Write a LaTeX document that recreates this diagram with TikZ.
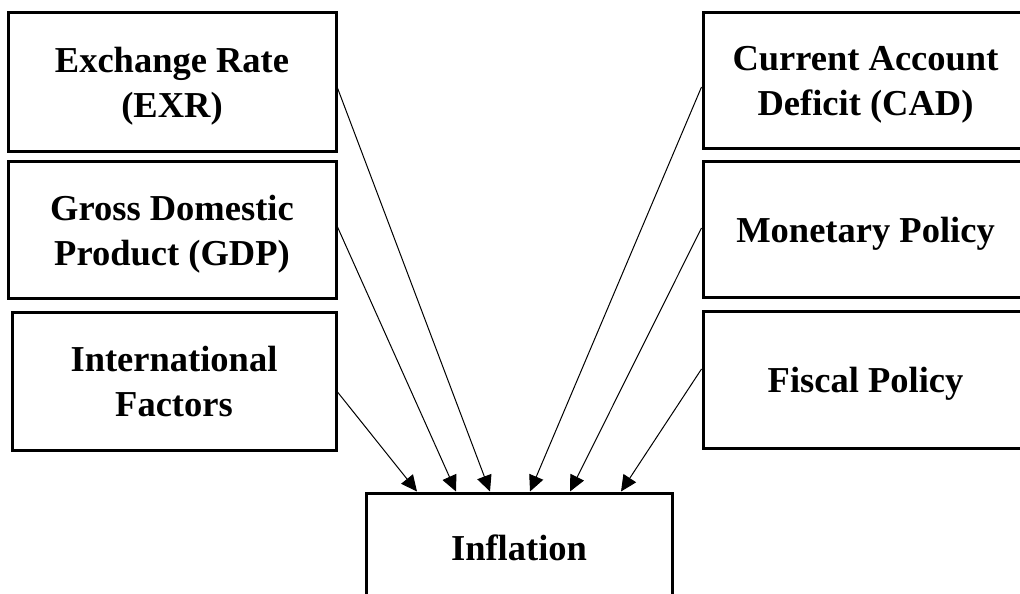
\documentclass[tikz,border=0pt]{standalone}
\usepackage{fontspec}
\setmainfont{Liberation Serif}
\usetikzlibrary{arrows.meta}

\tikzset{
    factor/.style={draw, rectangle, line width=1.5pt, align=center,
        font=\fontsize{18.25}{22.5}\selectfont\bfseries, inner sep=0pt, text depth=0pt},
    twoline/.style={text depth=-3.5pt},
    feed/.style={line width=0.5pt, -{Triangle[length=8pt,width=7.5pt]}}
}

\begin{document}
\begin{tikzpicture}[x=0.5pt, y=-0.5pt]

    \useasboundingbox (0, 0) rectangle (1020, 593);
    \clip (0, 0) rectangle (1020, 593);

    \node[factor, twoline, minimum width=164pt, minimum height=69.5pt] (exr) at (172, 82.5) {Exchange Rate\\(EXR)};
    \node[factor, twoline, minimum width=164pt, minimum height=68pt] (gdp) at (172, 230) {Gross Domestic\\Product (GDP)};
    \node[factor, twoline, minimum width=162pt, minimum height=69pt] (intl) at (174, 381) {International\\Factors};

    \node[factor, twoline, minimum width=162.5pt, minimum height=68pt] (cad) at (865.5, 81) {Current Account\\Deficit (CAD)};
    \node[factor, minimum width=162.5pt, minimum height=67.5pt] (monetary) at (865.5, 229.5) {Monetary Policy};
    \node[factor, minimum width=162.5pt, minimum height=68.5pt] (fiscal) at (865.5, 379.5) {Fiscal Policy};

    \node[factor, minimum width=153pt, minimum height=55pt] (inflation) at (519, 548) {Inflation};

    \draw[feed] ([yshift=-5.5pt]intl.east) -- ([xshift=-51pt]inflation.north);
    \draw[feed] ([yshift=1.5pt]gdp.east) -- ([xshift=-31.5pt]inflation.north);
    \draw[feed] ([yshift=-2.75pt]exr.east) -- ([xshift=-14.5pt]inflation.north);

    \draw[feed] ([yshift=-3pt]cad.west) -- ([xshift=5.5pt]inflation.north);
    \draw[feed] ([yshift=0.75pt]monetary.west) -- ([xshift=25.5pt]inflation.north);
    \draw[feed] ([yshift=5.25pt]fiscal.west) -- ([xshift=51pt]inflation.north);

\end{tikzpicture}
\end{document}
